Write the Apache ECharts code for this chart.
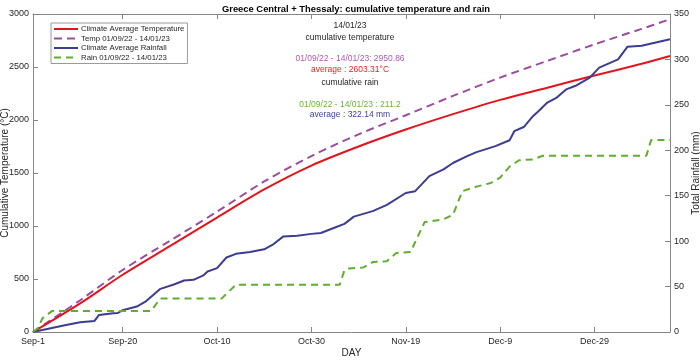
<!DOCTYPE html>
<html>
<head>
<meta charset="utf-8">
<script src="https://cdn.jsdelivr.net/npm/echarts@6/dist/echarts.min.js"></script>
<style>html,body{margin:0;padding:0;background:#fff;}#c{width:700px;height:361px;}</style>
</head>
<body>
<div id="c"></div>
<script>
// ---- data (day 1 = Sep-1) ----
const tickDays = [1, 20, 40, 60, 80, 100, 120];
const tickLabels = ['Sep-1', 'Sep-20', 'Oct-10', 'Oct-30', 'Nov-19', 'Dec-9', 'Dec-29'];

const tempAvgDays = [1, 11, 20, 30, 40, 50, 60, 70, 80, 90, 100, 110, 120, 130, 136];
const tempAvgValues = [0, 270, 540, 810, 1080, 1345, 1570, 1750, 1910, 2055, 2190, 2305, 2420, 2530, 2603.31];

const tempActDays = [1, 11, 20, 30, 40, 50, 60, 70, 80, 90, 100, 110, 120, 130, 136];
const tempActValues = [0, 300, 585, 860, 1135, 1420, 1660, 1865, 2045, 2227, 2400, 2558, 2714, 2860, 2950.86];

const rainAvgDays = [1, 4, 8, 11, 14, 15, 18, 19, 20, 23, 25, 28, 31, 33, 35, 37, 38, 40, 42, 44, 47, 50, 52, 54, 57, 60, 62, 65, 67, 69, 71, 73, 76, 80, 82, 85, 88, 90, 93, 95, 99, 102, 103, 105, 107, 108, 110, 112, 114, 116, 119, 121, 125, 127, 130, 133, 136];
const rainAvgValues = [0, 3.3, 7.7, 10.7, 12, 18.8, 20.6, 21, 24, 28, 34, 47.5, 52.6, 56.7, 57.4, 62, 66.6, 70.3, 82, 86, 88, 91, 96.8, 105, 106, 108, 109, 115, 119, 127, 130, 133, 140, 153, 155, 171.5, 179, 186, 193.6, 198, 204.6, 211, 221, 225.6, 237.8, 242.5, 252.5, 258, 267, 271, 280, 291, 300, 314, 315, 318.7, 322.14];

const rainActDays = [1, 2, 3, 5, 26, 28, 41, 44, 66, 67, 68, 71, 73, 76, 78, 81, 84, 88, 90, 92, 95, 98, 100, 102, 104, 107, 109, 131, 132, 136];
const rainActValues = [0, 4, 15, 23, 23, 37, 37, 52, 52, 68, 70, 71, 77, 78, 87, 88, 121, 124, 129, 155, 160, 164, 170, 182, 189, 190, 194, 194, 211.2, 211.2];

const seriesNames = ['Climate Average Temperature', 'Temp 01/09/22 - 14/01/23', 'Climate Average Rainfall', 'Rain 01/09/22 - 14/01/23'];

function pairs(d, v) { return d.map((x, i) => [x, v[i]]); }

const FONT = '"Liberation Sans", Arial, Helvetica, sans-serif';
const AX = '#868686';
const TXT = '#262626';
const cRed = '#e3141b', cPurple = '#9b4c9b', cBlue = '#3c3c92', cGreen = '#5fae2e';

const chart = echarts.init(document.getElementById('c'), null, {renderer: 'canvas'});
const xLabelMap = {};
tickDays.forEach((d, i) => xLabelMap[d] = tickLabels[i]);

function txt(text, y, fill) {
  return {type: 'text', style: {text: text, x: 350, y: y, align: 'center', verticalAlign: 'middle', font: '8.5px ' + FONT, fill: fill}};
}

const option = {
  animation: false,
  textStyle: {fontFamily: FONT},
  title: {
    text: 'Greece Central + Thessaly: cumulative temperature and rain',
    left: 351, textAlign: 'center', top: 0,
    textStyle: {fontFamily: FONT, fontSize: 9.4, fontWeight: 'bold', color: '#000'}
  },
  grid: {left: 33, right: 30, top: 14, bottom: 29, containLabel: false, outerBoundsMode: 'none'},
  legend: {
    orient: 'vertical', left: 51, top: 23,
    data: seriesNames,
    itemWidth: 24, itemHeight: 9, itemGap: 1.5,
    padding: [2, 3, 2, 2],
    backgroundColor: '#fff', borderColor: '#9a9a9a', borderWidth: 1,
    itemStyle: {color: 'transparent', borderColor: 'transparent', borderWidth: 0, opacity: 0},
    textStyle: {fontFamily: FONT, fontSize: 7.8, color: TXT, padding: [0, 0, 0, -2]}
  },
  xAxis: [{
    type: 'value', min: 1, max: 136, position: 'bottom',
    name: 'DAY', nameLocation: 'middle', nameGap: 16, nameMoveOverlap: false,
    nameTextStyle: {fontFamily: FONT, fontSize: 10, color: TXT},
    axisLine: {show: true, onZero: false, lineStyle: {color: AX, width: 1}},
    axisTick: {show: true, inside: true, length: 5, customValues: tickDays, lineStyle: {color: AX}},
    axisLabel: {show: true, customValues: tickDays, margin: 5, fontSize: 9, color: TXT, fontFamily: FONT,
      formatter: v => xLabelMap[v] || ''},
    splitLine: {show: false}
  }, {
    type: 'value', min: 1, max: 136, position: 'top',
    axisLine: {show: true, onZero: false, lineStyle: {color: AX, width: 1}},
    axisTick: {show: true, inside: true, length: 5, customValues: tickDays, lineStyle: {color: AX}},
    axisLabel: {show: false},
    splitLine: {show: false}
  }],
  yAxis: [{
    type: 'value', min: 0, max: 3000, interval: 500, position: 'left',
    name: 'Cumulative Temperature (°C)', nameLocation: 'middle', nameGap: 22.5, nameMoveOverlap: false,
    nameTextStyle: {fontFamily: FONT, fontSize: 10, color: TXT},
    axisLine: {show: true, lineStyle: {color: AX, width: 1}},
    axisTick: {show: true, inside: true, length: 5, lineStyle: {color: AX}},
    axisLabel: {margin: 4, fontSize: 9, color: TXT, fontFamily: FONT, formatter: v => String(v)},
    splitLine: {show: false}
  }, {
    type: 'value', min: 0, max: 350, interval: 50, position: 'right',
    name: 'Total Rainfall (mm)', nameLocation: 'middle', nameGap: 21, nameMoveOverlap: false,
    nameTextStyle: {fontFamily: FONT, fontSize: 10, color: TXT},
    axisLine: {show: true, lineStyle: {color: AX, width: 1}},
    axisTick: {show: true, inside: true, length: 5, lineStyle: {color: AX}},
    axisLabel: {margin: 4, fontSize: 9, color: TXT, fontFamily: FONT, formatter: v => String(v)},
    splitLine: {show: false}
  }],
  series: [{
    name: seriesNames[0], type: 'line', xAxisIndex: 0, yAxisIndex: 0,
    data: pairs(tempAvgDays, tempAvgValues), smooth: 0.3, symbol: 'none',
    lineStyle: {color: cRed, width: 2}, itemStyle: {color: cRed}, z: 3
  }, {
    name: seriesNames[1], type: 'line', xAxisIndex: 0, yAxisIndex: 0,
    data: pairs(tempActDays, tempActValues), smooth: 0.3, symbol: 'none',
    lineStyle: {color: cPurple, width: 2, type: [8, 5]}, itemStyle: {color: cPurple}, z: 2
  }, {
    name: seriesNames[2], type: 'line', xAxisIndex: 0, yAxisIndex: 1,
    data: pairs(rainAvgDays, rainAvgValues), symbol: 'none',
    lineStyle: {color: cBlue, width: 2}, itemStyle: {color: cBlue}, z: 4
  }, {
    name: seriesNames[3], type: 'line', xAxisIndex: 0, yAxisIndex: 1,
    data: pairs(rainActDays, rainActValues), symbol: 'none',
    lineStyle: {color: cGreen, width: 2, type: [7, 5]}, itemStyle: {color: cGreen}, z: 4
  }],
  graphic: [
    txt('14/01/23', 26, TXT),
    txt('cumulative temperature', 38, TXT),
    txt('01/09/22 - 14/01/23: 2950.86', 59, '#b05ab0'),
    txt('average : 2603.31°C', 69.5, '#e32421'),
    txt('cumulative rain', 82.5, TXT),
    txt('01/09/22 - 14/01/23 : 211.2', 104.5, '#6cb33c'),
    txt('average : 322.14 mm', 114.5, '#3f3f95')
  ]
};
chart.setOption(option);
</script>
</body>
</html>
